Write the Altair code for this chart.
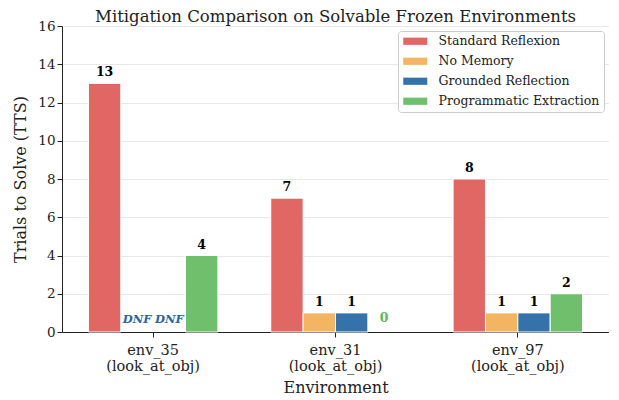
import altair as alt
import pandas as pd

envs = ["env_35\n(look_at_obj)", "env_31\n(look_at_obj)", "env_97\n(look_at_obj)"]
series = ["Standard Reflexion", "No Memory", "Grounded Reflection", "Programmatic Extraction"]
colors = ["#e06763", "#f3b562", "#3572aa", "#6fbf6d"]
standard = [13, 7, 8]
no_memory = [None, 1, 1]
grounded = [None, 1, 1]
programmatic = [4, 0, 2]
y_ticks = [0, 2, 4, 6, 8, 10, 12, 14, 16]

rows = []
for i, e in enumerate(envs):
    for s, vals in zip(series, [standard, no_memory, grounded, programmatic]):
        v = vals[i]
        rows.append({"env": e, "series": s, "value": v})
df = pd.DataFrame(rows)
df["label"] = df["value"].apply(lambda v: "DNF" if pd.isna(v) else str(int(v)))
df["kind"] = df["value"].apply(lambda v: "dnf" if pd.isna(v) else ("zero" if v == 0 else "num"))
df["ypos"] = df["value"].fillna(0)

font = "DejaVu Serif"
x = alt.X("env:N", sort=envs, title="Environment",
          scale=alt.Scale(paddingInner=0.29, paddingOuter=0.145),
          axis=alt.Axis(labelAngle=0, labelExpr="split(datum.label, '\\n')",
                        labelFontSize=14.5, titleFontSize=16, labelColor="#222",
                        titleColor="#222", labelPadding=6, titlePadding=7,
                        domainColor="#222", tickColor="#222", grid=False,
                        labelLineHeight=16))
xo = alt.XOffset("series:N", sort=series, scale=alt.Scale(paddingInner=0))
y = alt.Y("ypos:Q", scale=alt.Scale(domain=[0, 16]), title="Trials to Solve (TTS)",
          axis=alt.Axis(values=y_ticks, labelFontSize=13.5, titleFontSize=16,
                        labelColor="#222", titleColor="#222", domainColor="#222",
                        tickColor="#222", gridColor="#e8e8e8", titlePadding=9))

base = alt.Chart(df)
bars = base.transform_filter("datum.value > 0").mark_bar(stroke="white", strokeWidth=1).encode(
    x=x, xOffset=xo, y=y,
    color=alt.Color("series:N", sort=series,
                    scale=alt.Scale(domain=series, range=colors),
                    legend=alt.Legend(title=None, orient="top-right", offset=5,
                                      labelFont=font, labelFontSize=12.5, labelColor="#222",
                                      labelLimit=300,
                                      strokeColor="#ccc", fillColor="white", padding=4,
                                      cornerRadius=3,
                                      symbolType="M-2,-0.6H2V0.6H-2Z", symbolSize=144,
                                      symbolOffset=7,
                                      symbolStrokeWidth=0, rowPadding=7, labelOffset=17)),
)
nums = base.transform_filter("datum.kind == 'num'").mark_text(
    font=font, fontWeight="bold", fontSize=12.5, color="black", baseline="bottom", dy=-4
).encode(x=x, xOffset=xo, y=y, text="label:N")
dnf = base.transform_filter("datum.kind == 'dnf'").mark_text(
    font=font, fontWeight="bold", fontStyle="italic", fontSize=11.5, color="#2a65a5",
    baseline="bottom", dy=-7
).encode(x=x, xOffset=xo, y=y, text="label:N")
zero = base.transform_filter("datum.kind == 'zero'").mark_text(
    font=font, fontWeight="bold", fontSize=12.5, color="#5cb85c",
    baseline="bottom", dy=-7
).encode(x=x, xOffset=xo, y=y, text="label:N")

chart = alt.layer(bars, nums, dnf, zero).properties(
    width=547, height=306,
    padding={"left": 4, "top": 0, "right": 0, "bottom": 0},
    title=alt.Title("Mitigation Comparison on Solvable Frozen Environments",
                    font=font, fontSize=16.5, fontWeight="normal", color="#222",
                    offset=-6, frame="group"),
).configure_view(stroke=None).configure_axis(
    labelFont=font, titleFont=font, titleFontWeight="normal"
).configure_title(font=font).configure_legend(labelFont=font)

chart.save("out.html", embed_options={"renderer": "svg", "actions": False})
